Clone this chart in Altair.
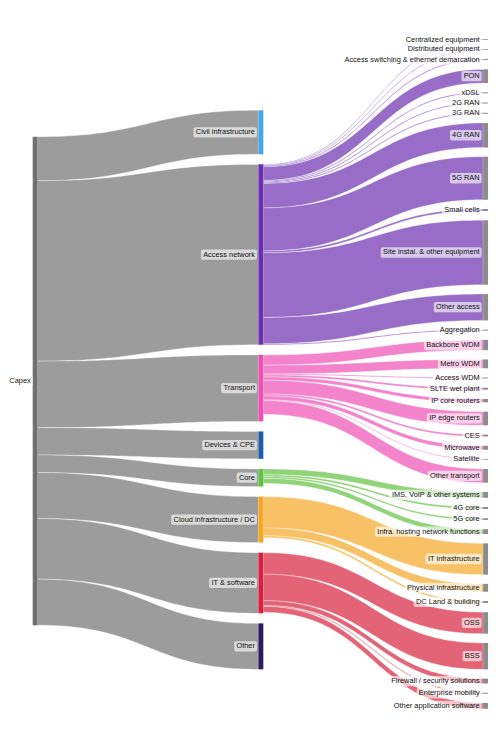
import altair as alt
import pandas as pd
import numpy as np

# ---------------- data (values in % of total capex) ----------------
root = "Capex"
categories = ["Civil infrastructure", "Access network", "Transport", "Devices & CPE",
              "Core", "Cloud infrastructure / DC", "IT & software", "Other"]
category_values = [9.0, 36.9, 13.6, 5.6, 3.6, 9.4, 12.4, 9.4]

access_items = ["Centralized equipment", "Distributed equipment",
                "Access switching & ethernet demarcation", "PON", "xDSL", "2G RAN",
                "3G RAN", "4G RAN", "5G RAN", "Small cells",
                "Site instal. & other equipment", "Other access", "Aggregation"]
access_values = [0.15, 0.15, 0.2, 2.8, 0.2, 0.2, 0.2, 5.0, 8.8, 0.4, 13.2, 5.4, 0.2]

transport_items = ["Backbone WDM", "Metro WDM", "Access WDM", "SLTE wet plant",
                   "IP core routers", "IP edge routers", "CES", "Microwave",
                   "Satellite", "Other transport"]
transport_values = [2.1, 1.8, 0.2, 0.4, 0.7, 2.8, 0.4, 0.8, 0.15, 2.8]

core_items = ["IMS, VoIP & other systems", "4G core", "5G core",
              "Infra. hosting network functions"]
core_values = [1.2, 0.4, 0.35, 1.0]

cloud_items = ["IT infrastructure", "Physical infrastructure", "DC Land & building"]
cloud_values = [6.4, 1.6, 0.4]

it_items = ["OSS", "BSS", "Firewall / security solutions", "Enterprise mobility",
            "Other application software"]
it_values = [4.4, 5.4, 1.0, 0.2, 1.2]

children = {
    "Access network": (access_items, access_values),
    "Transport": (transport_items, transport_values),
    "Core": (core_items, core_values),
    "Cloud infrastructure / DC": (cloud_items, cloud_values),
    "IT & software": (it_items, it_values),
}

# ---------------- styles ----------------
node_color = {
    "Capex": "#717171",
    "Civil infrastructure": "#45a6ea",
    "Access network": "#6a2fb0",
    "Transport": "#ee4fb5",
    "Devices & CPE": "#1b5ea6",
    "Core": "#60c040",
    "Cloud infrastructure / DC": "#f6a623",
    "IT & software": "#d9213d",
    "Other": "#2d1a5e",
}
leaf_color = "#8c8c8c"


def blend(hexcol, a=0.7):
    h = hexcol.lstrip("#")
    rgb = [int(h[i:i + 2], 16) for i in (0, 2, 4)]
    out = [round(a * c + (1 - a) * 255) for c in rgb]
    return "#%02x%02x%02x" % tuple(out)


# ---------------- layout (sankey computed from the values) ----------------
W, H = 490, 734
KY = 4.95
NODE_W = 5
X_ROOT, X_MID, X_LEAF = 25, 253.5, 481
MID_TOP, MID_BOTTOM = 99, 665
LEAF_TOP, LEAF_BOTTOM = 27, 705
ROOT_CENTER = 373


def stack(values, top, bottom):
    total = sum(values) * KY
    pad = (bottom - top - total) / (len(values) - 1)
    res, y = [], top
    for v in values:
        res.append((y, y + v * KY))
        y += v * KY + pad
    return res


mid_pos = stack(category_values, MID_TOP, MID_BOTTOM)
leaf_names, leaf_vals, leaf_parent = [], [], []
for c in categories:
    if c in children:
        for n, v in zip(*children[c]):
            leaf_names.append(n)
            leaf_vals.append(v)
            leaf_parent.append(c)
leaf_pos = stack(leaf_vals, LEAF_TOP, LEAF_BOTTOM)
root_h = sum(category_values) * KY
root_top = ROOT_CENTER - root_h / 2

T = np.linspace(0, 1, 48)
S = 1.5 * T - 1.5 * T ** 2 + T ** 3
F = 3 * T ** 2 - 2 * T ** 3

link_rows = []
lid = 0


def add_link(x0, x1, y0, y1, w, col):
    global lid
    xs = x0 + (x1 - x0) * S
    top = y0 + (y1 - y0) * F
    for xv, tv in zip(xs, top):
        link_rows.append({"link": lid, "x": xv, "y": tv, "y2": tv + w, "color": col})
    lid += 1


# root -> categories
y = root_top
for c, v, (t0, t1) in zip(categories, category_values, mid_pos):
    w = v * KY
    add_link(X_ROOT + NODE_W, X_MID, y, t0, w, blend(node_color["Capex"]))
    y += w

# categories -> leaves
for c, (t0, t1) in zip(categories, mid_pos):
    if c not in children:
        continue
    y = t0
    for n, p, v, (l0, l1) in zip(leaf_names, leaf_parent, leaf_vals, leaf_pos):
        if p != c:
            continue
        w = v * KY
        add_link(X_MID + NODE_W, X_LEAF, y, l0, w, blend(node_color[c]))
        y += w

links_df = pd.DataFrame(link_rows)

# nodes
node_rows = [{"name": root, "x": X_ROOT, "x2": X_ROOT + NODE_W, "y": root_top,
              "y2": root_top + root_h, "color": node_color["Capex"]}]
for c, (t0, t1) in zip(categories, mid_pos):
    node_rows.append({"name": c, "x": X_MID, "x2": X_MID + NODE_W, "y": t0, "y2": t1,
                      "color": node_color[c]})
for n, (l0, l1) in zip(leaf_names, leaf_pos):
    node_rows.append({"name": n, "x": X_LEAF, "x2": X_LEAF + NODE_W, "y": l0, "y2": l1,
                      "color": leaf_color})
nodes_df = pd.DataFrame(node_rows)

# label text widths (Arial metrics)
AW = dict(zip("abcdefghijklmnopqrstuvwxyz",
              [556, 556, 500, 556, 556, 278, 556, 556, 222, 222, 500, 222, 833, 556, 556,
               556, 556, 333, 500, 278, 556, 500, 722, 500, 500, 500]))
AW.update(dict(zip("ABCDEFGHIJKLMNOPQRSTUVWXYZ",
                   [667, 667, 722, 722, 667, 611, 778, 722, 278, 500, 667, 556, 833, 722,
                    778, 667, 778, 722, 667, 611, 722, 667, 944, 667, 667, 611])))
AW.update({" ": 278, ".": 278, ",": 278, "&": 667, "/": 278, "-": 333})
FS = 7.5


def text_w(s):
    return sum(AW.get(ch, 556) for ch in s) * FS / 1000.0


label_rows = []
for r in node_rows:
    if r["name"] == root:
        lx = r["x"] - 2
    else:
        lx = r["x"] - 3.5
    cy = (r["y"] + r["y2"]) / 2
    tw = text_w(r["name"])
    label_rows.append({"name": r["name"], "lx": lx, "cy": cy,
                       "bx": lx - tw - 2.2, "bx2": lx + 2, "by": cy - 5.2, "by2": cy + 5.2})
labels_df = pd.DataFrame(label_rows)

xs = alt.Scale(domain=[0, W], nice=False, zero=False)
ys = alt.Scale(domain=[0, H], nice=False, zero=False, reverse=True)

links = alt.Chart(links_df).mark_area(
    stroke="white", strokeWidth=0.35, strokeOpacity=0.9
).encode(
    x=alt.X("x:Q", scale=xs, axis=None),
    y=alt.Y("y:Q", scale=ys, axis=None),
    y2="y2:Q",
    color=alt.Color("color:N", scale=None),
    detail="link:N",
)

nodes = alt.Chart(nodes_df).mark_rect().encode(
    x=alt.X("x:Q", scale=xs, axis=None), x2="x2:Q",
    y=alt.Y("y:Q", scale=ys, axis=None), y2="y2:Q",
    color=alt.Color("color:N", scale=None),
)

boxes = alt.Chart(labels_df).mark_rect(
    fill="white", opacity=0.62, cornerRadius=2
).encode(
    x=alt.X("bx:Q", scale=xs, axis=None), x2="bx2:Q",
    y=alt.Y("by:Q", scale=ys, axis=None), y2="by2:Q",
)

texts = alt.Chart(labels_df).mark_text(
    align="right", baseline="middle", font="Liberation Sans", fontSize=FS, color="#111111"
).encode(
    x=alt.X("lx:Q", scale=xs, axis=None),
    y=alt.Y("cy:Q", scale=ys, axis=None),
    text="name:N",
)

chart = alt.layer(links, nodes, boxes, texts).properties(
    width=W, height=H, padding=0, autosize="none"
).configure_view(stroke=None)

chart.save("out.html", embed_options={"renderer": "svg", "actions": False})
